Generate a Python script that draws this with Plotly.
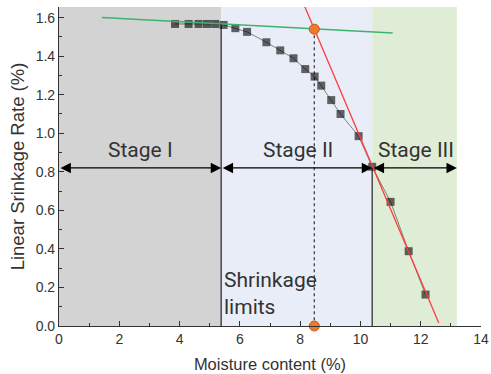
import plotly.graph_objects as go

# ---- data ----
moisture = [3.85, 4.30, 4.63, 4.91, 5.18, 5.46, 5.85, 6.24, 6.88, 7.34, 7.78,
            8.17, 8.48, 8.70, 9.03, 9.34, 9.94, 10.39, 11.0, 11.6, 12.16]
shrinkage = [1.567, 1.567, 1.567, 1.567, 1.567, 1.562, 1.545, 1.526, 1.472, 1.430,
             1.389, 1.333, 1.294, 1.247, 1.172, 1.100, 0.985, 0.826, 0.644, 0.388, 0.163]

green_x = [1.42, 11.07]
green_y = [1.60, 1.52]
red_x = [8.0, 12.6]
red_y = [1.714, 0.015]

limit_x = [8.47, 8.47]
limit_y = [1.54, 0.0]

stage_bounds = [0.0, 5.38, 10.39, 13.2]
stage_names = ["Stage I", "Stage II", "Stage III"]
stage_label_x = [2.7, 7.94, 11.83]
arrow_y = 0.82
stage_label_y = 0.915
stage_colors = ["#d3d3d3", "#e9edf8", "#e0edd6"]
divider_tops = [1.567, 0.82]

x_ticks = [0, 2, 4, 6, 8, 10, 12, 14]
y_ticks = [0.0, 0.2, 0.4, 0.6, 0.8, 1.0, 1.2, 1.4, 1.6]

fig = go.Figure()

# shaded stages
for i, c in enumerate(stage_colors):
    fig.add_shape(type="rect", xref="x", yref="y", layer="below",
                  x0=stage_bounds[i], x1=stage_bounds[i + 1], y0=0, y1=1.655,
                  fillcolor=c, line_width=0)

# stage divider lines
for xb, top in zip(stage_bounds[1:3], divider_tops):
    fig.add_trace(go.Scatter(x=[xb, xb], y=[0, top], mode="lines",
                             line=dict(color="#222", width=1.2), hoverinfo="skip"))

# dashed shrinkage-limit line
fig.add_trace(go.Scatter(x=limit_x, y=limit_y, mode="lines",
                         line=dict(color="#444", width=1.3, dash="3px,3px"), hoverinfo="skip"))

# data
fig.add_trace(go.Scatter(x=moisture, y=shrinkage, mode="lines+markers",
                         line=dict(color="rgba(0,0,0,0.45)", width=1),
                         marker=dict(symbol="square", size=8, color="rgba(0,0,0,0.6)",
                                     line_width=0)))

# fit lines
fig.add_trace(go.Scatter(x=green_x, y=green_y, mode="lines",
                         line=dict(color="#3cb46e", width=1.5)))
fig.add_trace(go.Scatter(x=red_x, y=red_y, mode="lines",
                         line=dict(color="#ff3b3b", width=1.3)))

# intersection points
fig.add_trace(go.Scatter(x=limit_x, y=limit_y, mode="markers", cliponaxis=False,
                         marker=dict(size=10, color="#ec7a2a",
                                     line=dict(color="#c85a10", width=1))))

# double arrows and stage labels
for i in range(3):
    fig.add_annotation(x=stage_bounds[i + 1], y=arrow_y, ax=stage_bounds[i], ay=arrow_y,
                       xref="x", yref="y", axref="x", ayref="y", text="",
                       showarrow=True, arrowside="end+start", arrowhead=2,
                       arrowsize=1.6, arrowwidth=1.3, arrowcolor="#000")
    fig.add_annotation(x=stage_label_x[i], y=stage_label_y, text=stage_names[i],
                       showarrow=False, xanchor="center", yanchor="middle",
                       font=dict(family="Roboto", size=21, color="#333"))

fig.add_annotation(x=5.42, y=0.17, text="Shrinkage<br>limits", showarrow=False,
                   xanchor="left", yanchor="middle", align="left",
                   font=dict(family="Roboto", size=21, color="#333"))

axis_common = dict(showgrid=False, zeroline=False, showline=True, linecolor="#333",
                   linewidth=1.2, ticks="inside", ticklen=5, tickcolor="#333",
                   tickfont=dict(family="Liberation Sans, Arial", size=14, color="#333"),
                   mirror=False)

fig.update_xaxes(range=[0, 14], tickvals=x_ticks,
                 minor=dict(dtick=1, ticks="inside", ticklen=3, tickcolor="#333"),
                 title=dict(text="Moisture content (%)", standoff=12,
                            font=dict(family="Liberation Sans, Arial", size=16.5, color="#333")),
                 **axis_common)
fig.update_yaxes(range=[0, 1.655], tickvals=y_ticks, tickformat=".1f",
                 minor=dict(dtick=0.1, ticks="inside", ticklen=3, tickcolor="#333"),
                 title=dict(text="Linear Srinkage Rate (%)", standoff=6,
                            font=dict(family="Liberation Sans, Arial", size=18.5, color="#333")),
                 **axis_common)

fig.update_layout(width=491, height=374, showlegend=False,
                  margin=dict(l=59, r=10, t=7, b=48, autoexpand=False),
                  paper_bgcolor="white", plot_bgcolor="white")

fig.write_html("out.html")
